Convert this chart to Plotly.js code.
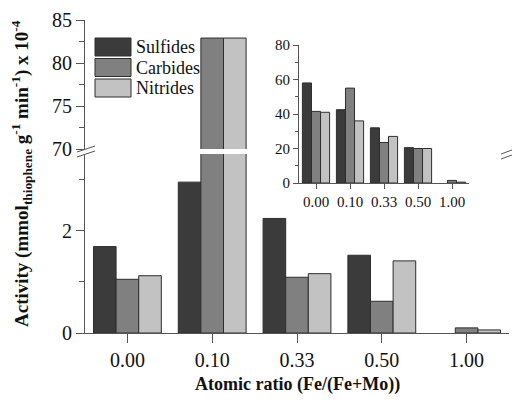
<!DOCTYPE html>
<html>
<head>
<meta charset="utf-8">
<script src="https://cdn.plot.ly/plotly-3.0.1.min.js"></script>
<style>html,body{margin:0;padding:0;background:#fff;}#chart{width:512px;height:403px;}</style>
</head>
<body>
<div id="chart"></div>
<script>
// ---- data ----
const categories = ["0.00", "0.10", "0.33", "0.50", "1.00"];
const seriesNames = ["Sulfides", "Carbides", "Nitrides"];
// main chart: activity (mmol thiophene g-1 min-1) x 10^-4
const sulfides = [1.69, 2.95, 2.24, 1.52, 0];
const carbides = [1.05, 82.9, 1.09, 0.62, 0.10];
const nitrides = [1.12, 82.9, 1.16, 1.41, 0.06];
// inset values
const insetSulfides = [58, 42.5, 32, 20.5, 0];
const insetCarbides = [41.5, 55, 23.5, 20, 1.5];
const insetNitrides = [41, 36, 27, 20, 0.5];
const lowerTicks = [0, 2];
const upperTicks = [70, 75, 80, 85];
const insetTicks = [0, 20, 40, 60, 80];

const colors = ["#3b3b3b", "#808080", "#c2c2c2"];
const edge = "#2e2e2e";
const mainSeries = [sulfides, carbides, nitrides];
const insetSeries = [insetSulfides, insetCarbides, insetNitrides];
const FONT = "Liberation Serif";
const AX = "#555";

const lineW = vals => vals.map(v => (v === 0 ? 0 : 1));

const traces = [];
mainSeries.forEach((vals, i) => {
  traces.push({type: "bar", x: categories, y: vals, name: seriesNames[i], xaxis: "x", yaxis: "y",
    marker: {color: colors[i], line: {color: edge, width: lineW(vals)}}, showlegend: false});
  traces.push({type: "bar", x: categories, y: vals, name: seriesNames[i], xaxis: "x", yaxis: "y2",
    marker: {color: colors[i], line: {color: edge, width: lineW(vals)}}, showlegend: false});
});
insetSeries.forEach((vals, i) => {
  traces.push({type: "bar", x: categories, y: vals, name: seriesNames[i], xaxis: "x3", yaxis: "y3",
    marker: {color: colors[i], line: {color: edge, width: lineW(vals)}}, showlegend: false});
});

// paper coordinate helpers (plot area: x 85..509, y 20..333)
const L = 85, R = 3, T = 20, B = 70, W = 512, H = 403;
const pw = W - L - R, ph = H - T - B;
const px = v => (v - L) / pw;
const py = v => (H - B - v) / ph;

const lowDom = [0, py(154)];
const upDom = [py(149), 1];

const tickFont = {family: FONT, size: 20, color: "#111"};
const insetFont = {family: FONT, size: 15, color: "#111"};

const annotations = [
  {xref: "paper", yref: "paper", x: px(22), y: py(174), textangle: -90, showarrow: false,
    xanchor: "center", yanchor: "middle",
    text: "<b>Activity (mmol<sub>thiophene</sub> g<sup>-1</sup> min<sup>-1</sup>) x 10<sup>-4</sup></b>",
    font: {family: FONT, size: 19, color: "#111"}},
  {xref: "paper", yref: "paper", x: px(297), y: py(384), showarrow: false,
    xanchor: "center", yanchor: "middle",
    text: "<b>Atomic ratio (Fe/(Fe+Mo))</b>", font: {family: FONT, size: 18, color: "#111"}}
];
const shapes = [
  // break marks on left axis
  {type: "line", xref: "paper", yref: "paper", x0: px(77), y0: py(152), x1: px(95), y1: py(146), line: {color: AX, width: 1}},
  {type: "line", xref: "paper", yref: "paper", x0: px(77), y0: py(157), x1: px(95), y1: py(151), line: {color: AX, width: 1}},
  // break marks on right axis
  {type: "line", xref: "paper", yref: "paper", x0: px(501), y0: py(154), x1: px(512), y1: py(150), line: {color: AX, width: 1}},
  {type: "line", xref: "paper", yref: "paper", x0: px(501), y0: py(159), x1: px(512), y1: py(155), line: {color: AX, width: 1}}
];
// legend (swatch + name per series)
seriesNames.forEach((name, i) => {
  const top = 38 + i * 20.5;
  shapes.push({type: "rect", xref: "paper", yref: "paper", x0: px(95), x1: px(131), y0: py(top + 18), y1: py(top),
    fillcolor: colors[i], line: {color: edge, width: 1}});
  annotations.push({xref: "paper", yref: "paper", x: px(134), y: py(top + 9), showarrow: false,
    xanchor: "left", yanchor: "middle", text: name, font: {family: FONT, size: 18, color: "#111"}});
});

const layout = {
  width: W, height: H,
  margin: {l: L, r: R, t: T, b: B},
  paper_bgcolor: "#fff", plot_bgcolor: "#fff",
  barmode: "group", bargap: 0.2, bargroupgap: 0,
  font: {family: FONT, color: "#111"},
  showlegend: false,
  xaxis: {domain: [0, 1], anchor: "y", type: "category", range: [-0.5, 4.5],
    showline: true, linecolor: AX, linewidth: 1, ticks: "outside", ticklen: 9, tickcolor: AX,
    tickfont: tickFont, showgrid: false, zeroline: false},
  yaxis: {domain: lowDom, anchor: "x", range: [0, 3.5], tickvals: lowerTicks,
    minor: {tickvals: [1, 3], ticks: "outside", ticklen: 5, tickcolor: AX, showgrid: false},
    showline: true, linecolor: AX, linewidth: 1, ticks: "outside", ticklen: 8, tickcolor: AX,
    tickfont: tickFont, showgrid: false, zeroline: false},
  yaxis2: {domain: upDom, anchor: "x", range: [70, 85], tickvals: upperTicks,
    minor: {tickvals: [72.5, 77.5, 82.5], ticks: "outside", ticklen: 5, tickcolor: AX, showgrid: false},
    showline: true, linecolor: AX, linewidth: 1, ticks: "outside", ticklen: 8, tickcolor: AX,
    tickfont: tickFont, showgrid: false, zeroline: false},
  xaxis2: {overlaying: "x", side: "top", anchor: "y2", range: [-0.5, 4.5], tickvals: [0, 1, 2, 3, 4],
    showticklabels: false, showline: true, linecolor: AX, linewidth: 1, ticks: "inside", ticklen: 10,
    tickcolor: AX, showgrid: false, zeroline: false},
  yaxis4: {overlaying: "y", side: "right", anchor: "x", range: [0, 3.5], tickvals: lowerTicks,
    minor: {tickvals: [1, 3], ticks: "inside", ticklen: 8, tickcolor: AX, showgrid: false},
    showticklabels: false, showline: true, linecolor: AX, linewidth: 1, ticks: "inside", ticklen: 9,
    tickcolor: AX, showgrid: false, zeroline: false},
  yaxis5: {overlaying: "y2", side: "right", anchor: "x", range: [70, 85], tickvals: [75, 80, 85],
    minor: {tickvals: [72.5, 77.5, 82.5], ticks: "inside", ticklen: 5, tickcolor: AX, showgrid: false},
    showticklabels: false, showline: true, linecolor: AX, linewidth: 1, ticks: "inside", ticklen: 9,
    tickcolor: AX, showgrid: false, zeroline: false},
  xaxis3: {domain: [px(299), px(469)], anchor: "y3", type: "category", range: [-0.5, 4.5],
    showline: true, linecolor: AX, linewidth: 1, ticks: "outside", ticklen: 5, tickcolor: AX,
    tickfont: insetFont, showgrid: false, zeroline: false},
  yaxis3: {domain: [py(183), py(45)], anchor: "x3", range: [0, 80], tickvals: insetTicks,
    minor: {tickvals: [10, 30, 50, 70], ticks: "outside", ticklen: 3, tickcolor: AX, showgrid: false},
    showline: true, linecolor: AX, linewidth: 1, ticks: "outside", ticklen: 5, tickcolor: AX,
    tickfont: insetFont, showgrid: false, zeroline: false},
  xaxis4: {overlaying: "x3", side: "top", anchor: "y3", range: [-0.5, 4.5], tickvals: [0, 1, 2, 3, 4],
    showticklabels: false, showline: true, linecolor: AX, linewidth: 1, ticks: "inside", ticklen: 5,
    tickcolor: AX, showgrid: false, zeroline: false},
  yaxis6: {overlaying: "y3", side: "right", anchor: "x3", range: [0, 80], tickvals: insetTicks,
    minor: {tickvals: [10, 30, 50, 70], ticks: "inside", ticklen: 3, tickcolor: AX, showgrid: false},
    showticklabels: false, showline: true, linecolor: AX, linewidth: 1, ticks: "inside", ticklen: 5,
    tickcolor: AX, showgrid: false, zeroline: false},
  annotations: annotations,
  shapes: shapes
};

Plotly.newPlot("chart", traces, layout, {displayModeBar: false, staticPlot: true});
</script>
</body>
</html>
